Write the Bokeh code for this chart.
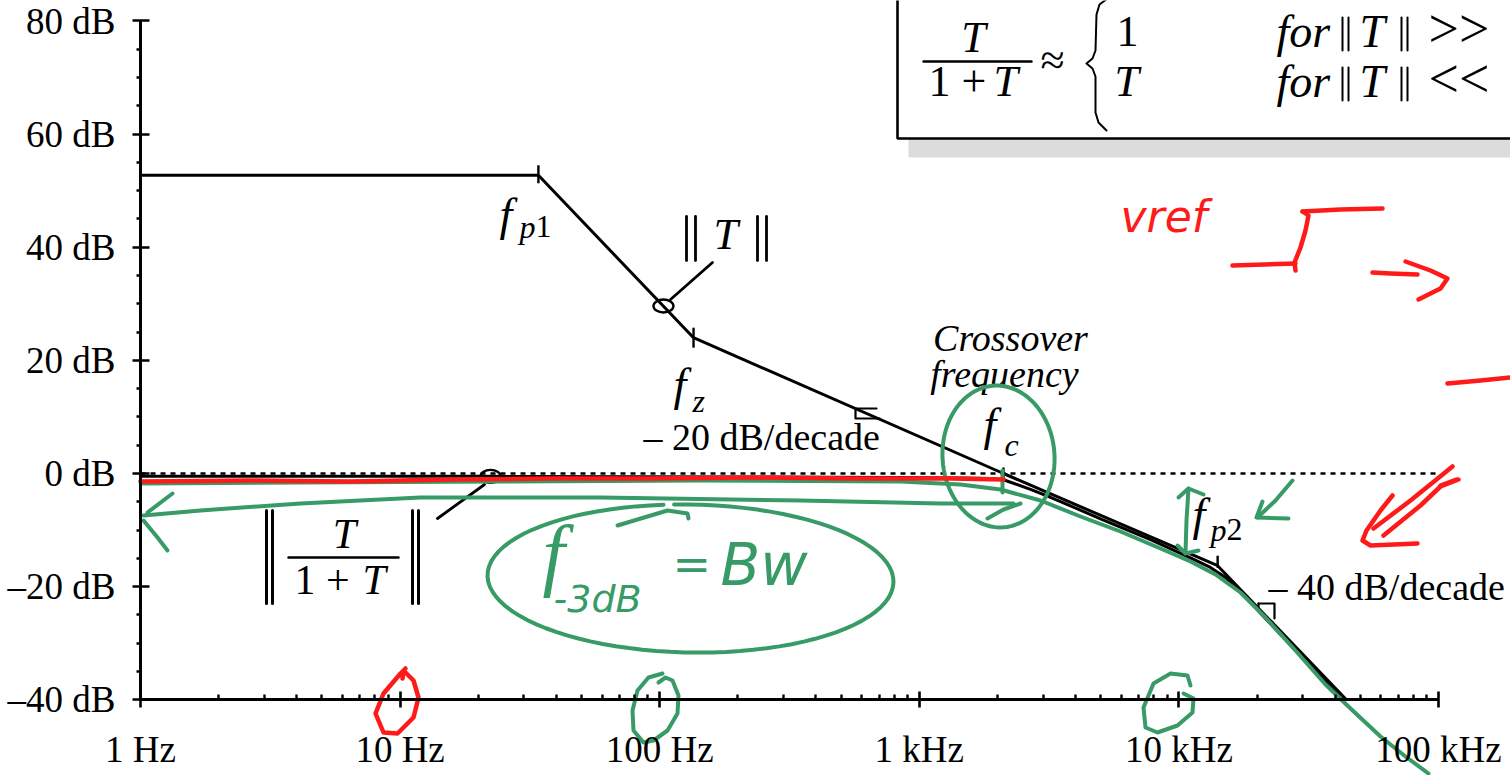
import math

from bokeh.core.properties import value
from bokeh.embed import file_html
from bokeh.models import FixedTicker, LinearAxis, LogAxis, Range1d
from bokeh.plotting import figure
from bokeh.resources import INLINE

W, H = 1510, 775

# Axis ticks
x_ticks = [1, 10, 100, 1000, 10000, 100000]
x_tick_labels = ["1 Hz", "10 Hz", "100 Hz", "1 kHz", "10 kHz", "100 kHz"]
x_minor = [m * d for d in [1, 10, 100, 1000, 10000] for m in range(2, 10)]
y_ticks = [-40, -20, 0, 20, 40, 60, 80]
y_tick_labels = ["–40 dB", "–20 dB", "0 dB", "20 dB", "40 dB", "60 dB", "80 dB"]
y_minor = [v for v in range(-35, 80, 5) if v % 20 != 0]

# Loop gain ||T||: asymptote corners (Hz, dB)
t_freq = [1, 34.1, 135, 2110, 14100, 44200]
t_db = [52.7, 52.7, 24.0, 0.0, -16.3, -40.0]

# Closed-loop gain ||T/(1+T)||
cl_freq = [1, 22.3, 847, 1441, 1881, 2110, 2682, 3202, 4989, 7774, 11080,
           13230, 15120, 17280, 20630, 29410, 42690]
cl_db = [-0.5, -0.5, -0.7, -0.8, -0.9, -1.1, -2.8, -4.2, -8.0, -11.7, -14.9,
         -16.6, -18.4, -20.7, -24.7, -32.2, -40.0]

# Points picked out with a small ring
ring_t = (103.4, 29.6)
ring_cl = (22.3, -0.5)

# Canvas layout: x of 1 Hz and pixels per decade, y of 0 dB and pixels per dB
X0, DEC = 140.0, 259.6
Y0, PDB = 473.0, 5.6583


def hz(px):
    return 10 ** ((px - X0) / DEC)


def db(py):
    return (Y0 - py) / PDB


def to_data(seq):
    return [hz(a) for a, _ in seq], [db(b) for _, b in seq]


p = figure(width=W, height=H, x_axis_type="log", x_axis_location=None,
           y_axis_location=None, x_range=Range1d(hz(0), hz(W)),
           y_range=Range1d(db(H), db(0)), output_backend="svg",
           toolbar_location=None, min_border=0)
p.outline_line_color = None
p.grid.visible = False
p.background_fill_color = "white"
p.border_fill_color = "white"

SERIF = "Liberation Serif"

xa = LogAxis(ticker=FixedTicker(ticks=x_ticks, minor_ticks=x_minor),
             fixed_location=-40, bounds=(1, 100000),
             major_label_overrides={t: s for t, s in zip(x_ticks, x_tick_labels)})
ya = LinearAxis(ticker=FixedTicker(ticks=y_ticks, minor_ticks=y_minor),
                fixed_location=1, bounds=(-40, 80),
                major_label_overrides={t: s for t, s in zip(y_ticks, y_tick_labels)})
for ax in (xa, ya):
    ax.axis_line_width = 3
    ax.axis_line_color = "black"
    ax.major_tick_line_width = 2.6
    ax.minor_tick_line_width = 2.4
    ax.major_tick_line_color = "black"
    ax.minor_tick_line_color = "black"
    ax.major_label_text_font = SERIF
    ax.major_label_text_font_size = "37px"
    ax.major_label_text_color = "black"
xa.major_tick_in, xa.major_tick_out = 8, 8
xa.minor_tick_in, xa.minor_tick_out = 5, 0
xa.major_label_standoff = 21
ya.major_tick_in, ya.major_tick_out = 9, 8
ya.minor_tick_in, ya.minor_tick_out = 0, 4
ya.major_label_standoff = 17
p.add_layout(xa, "below")
p.add_layout(ya, "left")

# the text glyph sets its baseline a little low; lift it so py is the baseline
LIFT = 0.36


def put(px, py, s, size, italic=False, align="left", color="black", font=SERIF):
    p.text(x=[hz(px)], y=[db(py - LIFT * size)], text=[s], text_font=value(font),
           text_font_size=f"{size}px",
           text_font_style="italic" if italic else "normal",
           text_align=align, text_baseline="alphabetic", text_color=color)


def stroke(seq, color="black", width=2.8, dash="solid"):
    xs, ys = to_data(seq)
    p.line(xs, ys, line_color=color, line_width=width, line_dash=dash,
           line_cap="round", line_join="round")


def loop(cx, cy, rx, ry, rot=0.0, a0=0.0, a1=360.0, n=90):
    r = math.radians(rot)
    out = []
    for i in range(n + 1):
        t = math.radians(a0 + (a1 - a0) * i / n)
        ex, ey = rx * math.cos(t), ry * math.sin(t)
        out.append((cx + ex * math.cos(r) - ey * math.sin(r),
                    cy + ex * math.sin(r) + ey * math.cos(r)))
    return out


def bars(px, top, bottom, gap, width=2.6):
    for dx in (0, gap):
        stroke([(px + dx, top), (px + dx, bottom)], width=width)


# Formula box in the upper right, with its drop shadow
p.quad(left=hz(908), right=hz(W + 60), top=db(138), bottom=db(157),
       fill_color="#dcdcdc", line_color=None)
p.quad(left=hz(897), right=hz(W + 60), top=db(-30), bottom=db(138),
       fill_color="white", line_color="black", line_width=2.6)
put(973, 53, "T", 44, italic=True, align="center")
stroke([(923, 61), (1031, 61)], width=2.4)
put(928, 97, "1 +", 44)
put(993, 97, "T", 44, italic=True)
put(1052, 76, "≈", 44, align="center")
stroke([(1107, -2), (1099, 4), (1096, 14), (1095, 50), (1092, 58), (1086, 63),
        (1092, 68), (1095, 76), (1095, 112), (1098, 122), (1106, 130)], width=2)
put(1116, 47, "1", 44)
put(1114, 97, "T", 44, italic=True)
for base, rel in ((48, ">>"), (98, "<<")):
    put(1276, base, "for", 46, italic=True)
    bars(1342, base - 31, base + 2, 6, width=2)
    put(1359, base, "T", 46, italic=True)
    bars(1401, base - 31, base + 2, 6, width=2)
    put(1428, base, rel, 54)

# 0 dB reference
p.line([1, 100000], [0, 0], line_color="black", line_width=2.4, line_dash="5 5")

# Loop gain asymptotes and the closed-loop response
p.line(t_freq, t_db, line_color="black", line_width=3)
p.line(cl_freq, cl_db, line_color="black", line_width=3)

# Tick marks on the corner frequencies
for f, lvl, up, down in ((t_freq[1], t_db[1], 10, 8), (t_freq[2], t_db[2], 10, 10),
                         (t_freq[3], t_db[3], 6, 6), (t_freq[4], t_db[4], 10, 2)):
    p.segment(x0=[f], y0=[lvl + up / PDB], x1=[f], y1=[lvl - down / PDB],
              line_color="black", line_width=2.4)

# Slope markers
stroke([(876, 408), (855, 408), (855, 418), (879, 418)], width=2.2)
stroke([(1258, 603), (1274, 603), (1274, 618)], width=2.2)
stroke([(1258, 603), (1258, 607)], width=2.2)

# Rings and their leader lines
p.ellipse(x=[ring_t[0], ring_cl[0]], y=[ring_t[1], ring_cl[1]], width=20, height=13,
          width_units="screen", height_units="screen", fill_color=None,
          line_color="black", line_width=2.4)
stroke([(670, 299), (712, 262)])
stroke([(484, 484), (437, 518)])

# Curve labels
bars(686, 216, 260, 9, width=2.8)
put(713, 250, "T", 44, italic=True)
bars(757, 216, 260, 9, width=2.8)

bars(266, 510, 603, 6, width=3)
put(344, 549, "T", 42, italic=True, align="center")
stroke([(288, 557), (398, 557)], width=2.4)
put(294, 595, "1 +", 42)
put(362, 595, "T", 42, italic=True)
bars(412, 510, 603, 6, width=3)

# Corner frequency labels
put(499, 231, "f", 46, italic=True)
put(519, 238, "p", 32, italic=True)
put(535, 238, "1", 32)
put(673, 401, "f", 46, italic=True)
put(692, 412, "z", 32, italic=True)
put(983, 441, "f", 46, italic=True)
put(1004, 456, "c", 32, italic=True)
put(1192, 531, "f", 46, italic=True)
put(1210, 541, "p", 32, italic=True)
put(1226, 541, "2", 32)

put(1010, 351, "Crossover", 38, italic=True, align="center")
put(1004, 387, "frequency", 38, italic=True, align="center")
put(643, 450, "– 20 dB/decade", 38)
put(1268, 600, "– 40 dB/decade", 38)

# Hand-drawn notes
GREEN = "#379a67"
RED = "#ff1a1a"
GW, RW = 4.0, 4.5

stroke([(142, 483), (300, 482), (500, 481), (700, 480), (900, 481), (960, 484),
        (1000, 489), (1040, 500), (1080, 516), (1120, 531), (1160, 548),
        (1190, 561), (1215, 574), (1240, 592), (1265, 617), (1295, 650),
        (1325, 684), (1350, 708), (1380, 736), (1405, 756), (1428, 773)],
       color=GREEN, width=GW)
stroke([(143, 515), (200, 510), (300, 503), (420, 497), (600, 497), (800, 500),
        (940, 503), (1013, 503)], color=GREEN, width=GW)
stroke([(172, 493), (147, 512)], color=GREEN, width=GW)
stroke([(143, 520), (157, 537), (167, 550)], color=GREEN, width=GW)
stroke([(987, 518), (1003, 509), (1020, 503)], color=GREEN, width=GW)
stroke([(1002, 470), (1002, 492)], color=GREEN, width=GW)

stroke(loop(998, 456, 56, 71, rot=-4, a0=-70, a1=300), color=GREEN, width=GW)
stroke(loop(690, 578, 203, 74, rot=1, a0=-95, a1=262), color=GREEN, width=GW)
stroke([(617, 525), (667, 510), (687, 513), (688, 518)], color=GREEN, width=GW)

put(542, 582, "f", 80, italic=True, color=GREEN)
put(553, 612, "-3dB", 38, italic=True, color=GREEN, font="DejaVu Sans")
put(672, 580, "=", 46, color=GREEN, font="DejaVu Sans")
put(720, 585, "Bw", 58, italic=True, color=GREEN, font="DejaVu Sans")

stroke([(1178, 497), (1188, 488), (1203, 494)], color=GREEN, width=GW)
stroke([(1188, 488), (1186, 520), (1185, 552)], color=GREEN, width=GW)
stroke([(1177, 545), (1185, 553), (1198, 550)], color=GREEN, width=GW)
stroke([(1292, 480), (1275, 500), (1257, 517)], color=GREEN, width=GW)
stroke([(1262, 501), (1256, 517), (1288, 518)], color=GREEN, width=GW)

stroke([(658, 682), (665, 677), (672, 680), (678, 695), (677, 713), (667, 730),
        (653, 740), (643, 742), (633, 730), (632, 710), (637, 690), (648, 677),
        (662, 673)], color=GREEN, width=GW)
stroke([(1190, 685), (1187, 675), (1170, 673), (1153, 683), (1143, 707),
        (1145, 727), (1157, 732), (1177, 725), (1192, 712), (1193, 698),
        (1183, 693)], color=GREEN, width=GW)

stroke([(140, 481), (250, 480), (350, 481), (450, 479), (550, 478), (650, 478),
        (750, 477), (850, 478), (950, 478), (1003, 479)], color=RED, width=RW)
stroke([(405, 668), (400, 673), (383, 693), (375, 713), (383, 732), (397, 733),
        (413, 717), (418, 697), (413, 680), (403, 670), (402, 678)],
       color=RED, width=RW)
stroke([(1452, 466), (1410, 500), (1373, 528)], color=RED, width=RW)
stroke([(1458, 479), (1440, 486), (1420, 505), (1383, 535)], color=RED, width=RW)
stroke([(1440, 485), (1456, 479)], color=RED, width=RW)
stroke([(1392, 495), (1380, 510), (1366, 530), (1362, 540), (1370, 545),
        (1417, 543)], color=RED, width=RW)
stroke([(1232, 265), (1295, 263)], color=RED, width=RW)
stroke([(1295, 270), (1294, 262), (1300, 247), (1305, 230), (1308, 215),
        (1302, 211)], color=RED, width=RW)
stroke([(1302, 211), (1340, 209), (1382, 208)], color=RED, width=RW)
stroke([(1372, 272), (1390, 273), (1417, 274)], color=RED, width=RW)
stroke([(1405, 261), (1430, 270), (1447, 278), (1440, 288), (1418, 299)],
       color=RED, width=RW)
stroke([(1447, 383), (1480, 380), (1510, 377)], color=RED, width=RW)
put(1120, 232, "vref", 44, italic=True, color=RED, font="DejaVu Sans")

open("out.html", "w").write(file_html(p, INLINE))
